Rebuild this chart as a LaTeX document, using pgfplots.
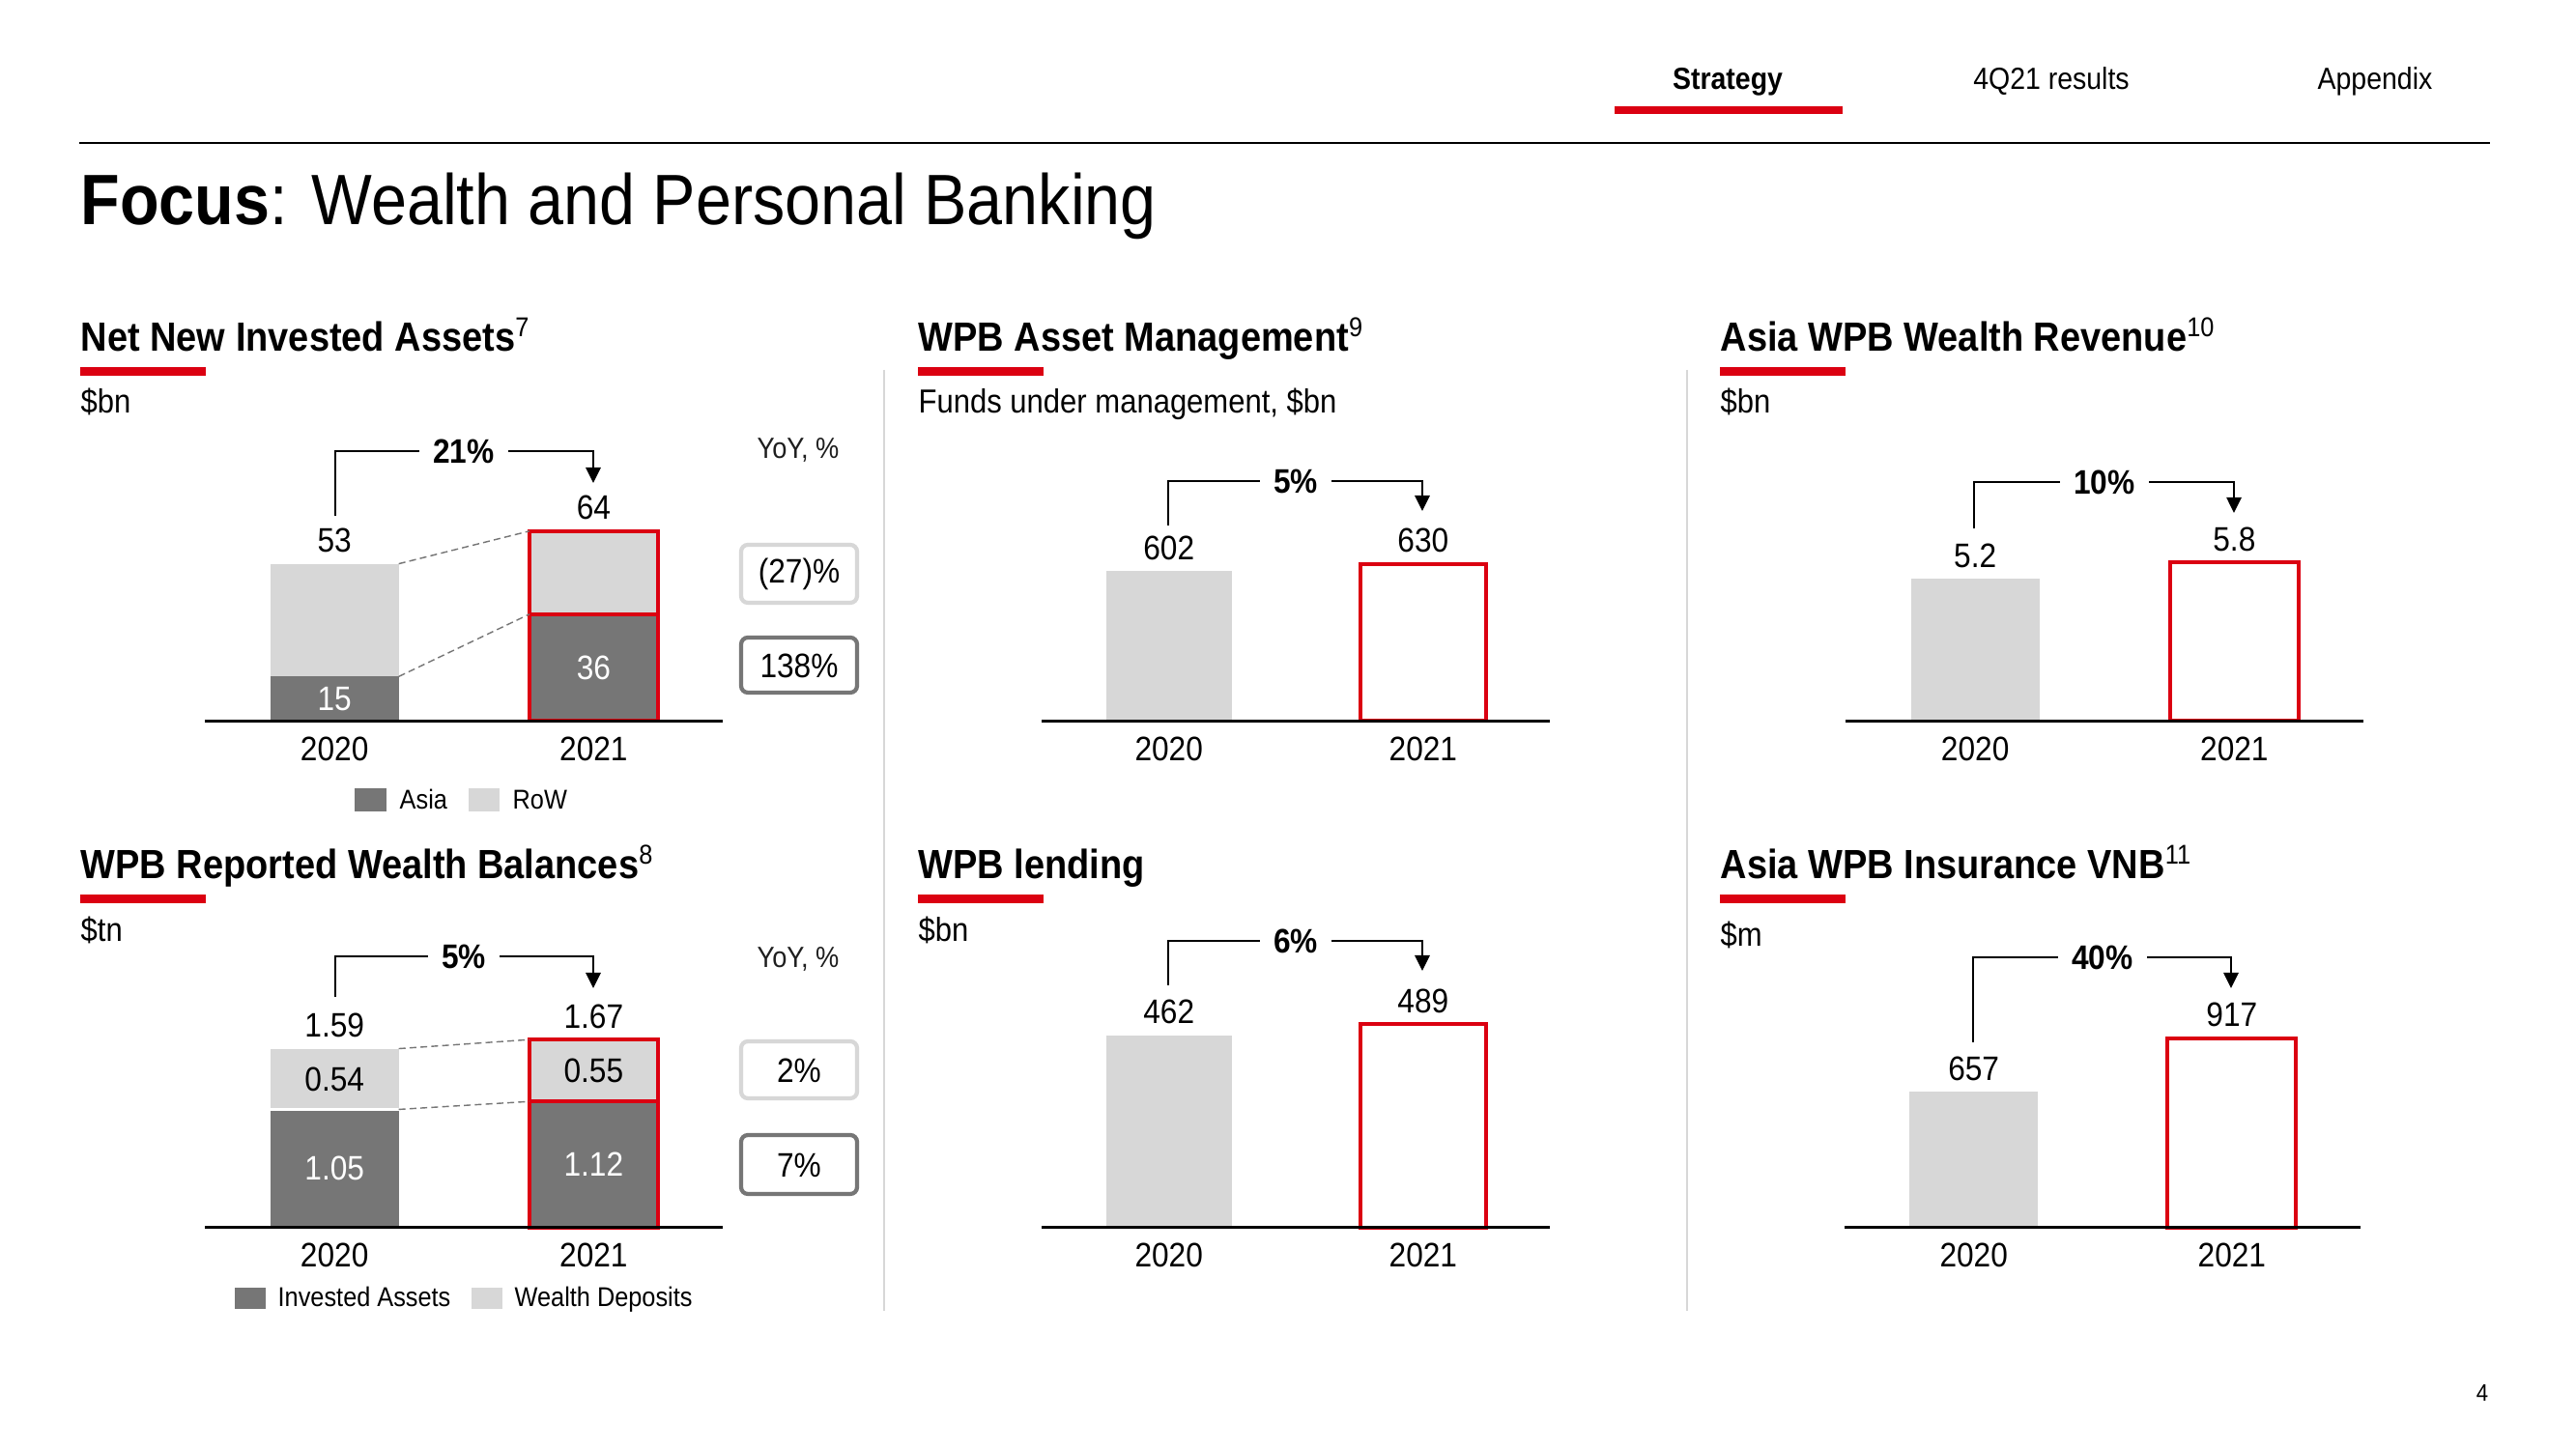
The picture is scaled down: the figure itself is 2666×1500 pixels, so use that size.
\documentclass[border=0pt]{standalone}
\usepackage{pgfplots}
\pgfplotsset{compat=1.18}
\usetikzlibrary{arrows.meta}
\usepackage{fontspec}
\setmainfont{Liberation Sans}[FakeStretch=0.9]
\definecolor{hred}{HTML}{DB0011}
\definecolor{dgray}{HTML}{767676}
\definecolor{lgray}{HTML}{D7D7D7}
\definecolor{txt}{HTML}{1E1E1E}
\newcommand\fs[1]{\fontsize{#1}{#1}\selectfont}

\pgfplotsset{
  panel/.style={anchor=south west, xmin=-0.5, xmax=1.5, ymin=0,
    hide axis, enlargelimits=false, clip=false,
    ybar, bar width=1.33cm, /pgf/bar shift=0pt,
    every axis plot post/.append style={/pgf/bar shift=0pt}},
}
\tikzset{
  old/.style={fill=lgray, draw=none},
  new/.style={fill=white, draw=hred, line width=1.1pt},
  newl/.style={fill=lgray, draw=hred, line width=1.1pt},
  oldd/.style={fill=dgray, draw=none},
  newd/.style={fill=dgray, draw=hred, line width=1.1pt},
  lab/.style={font=\fs{10}, anchor=base, yshift=0.12cm, inner sep=0pt},
  yr/.style={font=\fs{10}, anchor=base, yshift=-0.41cm, inner sep=0pt},
  inlab/.style={font=\fs{10}, anchor=center, inner sep=0pt},
  conn/.style={dgray, dash pattern=on 2pt off 1.2pt, line width=0.4pt},
  basel/.style={line width=0.8pt},
  ttl/.style={font=\fs{12}\bfseries, anchor=base west, inner sep=0pt},
  sub/.style={font=\fs{9.8}, anchor=base west, inner sep=0pt},
  leg/.style={font=\fs{8}, anchor=base west, inner sep=0pt},
  brk/.style={line width=0.8pt, -{Triangle[length=0.16cm,width=0.15cm]}},
  pct/.style={fill=white, font=\fs{10}\bfseries, inner xsep=0.14cm, inner ysep=1pt},
  boxl/.style={lgray, line width=1.2pt, rounded corners=2pt},
  boxd/.style={dgray, line width=1.2pt, rounded corners=2pt},
}

\begin{document}
\begin{tikzpicture}
% ---------- non-data layout in pixel coordinates ----------
\begin{scope}[x=0.01cm, y=-0.01cm, yshift=15cm]
\fill[white] (0,0) rectangle (2666,1500);
% header
\node[font=\fs{9}\bfseries, anchor=base] at (1788,93) {Strategy};
\node[font=\fs{9}, anchor=base] at (2123,93) {4Q21 results};
\node[font=\fs{9}, anchor=base] at (2458,93) {Appendix};
\fill[hred] (1671,110) rectangle (1907,118);
\draw[line width=0.8pt] (82,148) -- (2577,148);
\node[font=\fs{21}, anchor=base west, inner sep=0pt] at (83,233) {\textbf{Focus}: Wealth and Personal Banking};
% section titles
\node[ttl] at (83,364) {Net New Invested Assets\textsuperscript{\mdseries 7}};
\node[ttl] at (83,910) {WPB Reported Wealth Balances\textsuperscript{\mdseries 8}};
\node[ttl] at (950,364) {WPB Asset Management\textsuperscript{\mdseries 9}};
\node[ttl] at (950,910) {WPB lending};
\node[ttl] at (1780,364) {Asia WPB Wealth Revenue\textsuperscript{\mdseries 10}};
\node[ttl] at (1780,910) {Asia WPB Insurance VNB\textsuperscript{\mdseries 11}};
\foreach \xx in {83,950,1780}{
  \fill[hred] (\xx,380) rectangle (\xx+130,389);
  \fill[hred] (\xx,926) rectangle (\xx+130,935);
}
\node[sub] at (83,428) {\$bn};
\node[sub] at (83,975) {\$tn};
\node[sub] at (950,428) {Funds under management, \$bn};
\node[sub] at (950,975) {\$bn};
\node[sub] at (1780,428) {\$bn};
\node[sub] at (1780,980) {\$m};
% separators
\draw[lgray, line width=0.8pt] (915,383) -- (915,1357);
\draw[lgray, line width=0.8pt] (1746,383) -- (1746,1357);
% YoY boxes
\node[font=\fs{8.6}, text=txt] at (826,466) {YoY, \%};
\node[font=\fs{8.6}, text=txt] at (826,993) {YoY, \%};
\draw[boxl] (767,564) rectangle (887,624);
\node[font=\fs{10}] at (827,594) {(27)\%};
\draw[boxd] (767,660) rectangle (887,717);
\node[font=\fs{10}] at (827,689) {138\%};
\draw[boxl] (767,1078) rectangle (887,1137);
\node[font=\fs{10}] at (827,1108) {2\%};
\draw[boxd] (767,1175) rectangle (887,1236);
\node[font=\fs{10}] at (827,1206) {7\%};
% growth brackets
\draw[brk] (347,534) -- (347,467) -- (614,467) -- (614,500);
\node[pct] at (480,467) {21\%};
\draw[brk] (347,1032) -- (347,990) -- (614,990) -- (614,1023);
\node[pct] at (480,990) {5\%};
\draw[brk] (1209,544) -- (1209,498) -- (1472,498) -- (1472,529);
\node[pct] at (1341,498) {5\%};
\draw[brk] (1209,1020) -- (1209,974) -- (1472,974) -- (1472,1005);
\node[pct] at (1341,974) {6\%};
\draw[brk] (2043,547) -- (2043,499) -- (2312,499) -- (2312,531);
\node[pct] at (2178,499) {10\%};
\draw[brk] (2042,1079) -- (2042,991) -- (2309,991) -- (2309,1023);
\node[pct] at (2176,991) {40\%};
% legends
\fill[dgray] (367,816) rectangle (400,840); \node[leg] at (413,838) {Asia};
\fill[lgray] (485,816) rectangle (517,840); \node[leg] at (530,838) {RoW};
\fill[dgray] (243,1333) rectangle (275,1355); \node[leg] at (287,1353) {Invested Assets};
\fill[lgray] (488,1333) rectangle (520,1355); \node[leg] at (532,1353) {Wealth Deposits};
\node[font=\fs{7}] at (2569,1442) {4};
\end{scope}

% ---------- Panel 1: Net New Invested Assets ----------
\begin{axis}[panel, at={(2.12cm,7.54cm)}, x=2.68cm, y=0.0307cm, ymax=70]
\addplot[old] coordinates {(0,53)};
\addplot[oldd] coordinates {(0,15)};
\addplot[newl] coordinates {(1,64)};
\addplot[newd] coordinates {(1,36)};
\draw[conn] (axis cs:0.248,53) -- (axis cs:0.752,64);
\draw[conn] (axis cs:0.248,15) -- (axis cs:0.752,36);
\draw[basel] (axis cs:-0.5,0) -- (axis cs:1.5,0);
\node[lab] at (axis cs:0,53) {53};
\node[lab] at (axis cs:1,64) {64};
\node[inlab, text=white] at (axis cs:0,7.5) {15};
\node[inlab, text=white] at (axis cs:1,18) {36};
\node[yr] at (axis cs:0,0) {2020};
\node[yr] at (axis cs:1,0) {2021};
\end{axis}

% ---------- Panel 2: WPB Reported Wealth Balances ----------
\begin{axis}[panel, at={(2.12cm,2.30cm)}, x=2.68cm, y=1.164cm, ymax=1.8]
\addplot[old] coordinates {(0,1.59)};
\addplot[oldd] coordinates {(0,1.05)};
\addplot[newl] coordinates {(1,1.67)};
\addplot[newd] coordinates {(1,1.12)};
\draw[white, line width=0.8pt] (axis cs:-0.248,1.05) -- (axis cs:0.248,1.05);
\draw[conn] (axis cs:0.248,1.59) -- (axis cs:0.752,1.67);
\draw[conn] (axis cs:0.248,1.05) -- (axis cs:0.752,1.12);
\draw[basel] (axis cs:-0.5,0) -- (axis cs:1.5,0);
\node[lab] at (axis cs:0,1.59) {1.59};
\node[lab] at (axis cs:1,1.67) {1.67};
\node[inlab] at (axis cs:0,1.32) {0.54};
\node[inlab] at (axis cs:1,1.395) {0.55};
\node[inlab, text=white] at (axis cs:0,0.525) {1.05};
\node[inlab, text=white] at (axis cs:1,0.56) {1.12};
\node[yr] at (axis cs:0,0) {2020};
\node[yr] at (axis cs:1,0) {2021};
\end{axis}

% ---------- Panel 3: WPB Asset Management ----------
\begin{axis}[panel, at={(10.775cm,7.54cm)}, x=2.63cm, y=0.002575cm, ymax=700, bar width=1.3cm]
\addplot[old] coordinates {(0,602)};
\addplot[new] coordinates {(1,630)};
\draw[basel] (axis cs:-0.5,0) -- (axis cs:1.5,0);
\node[lab] at (axis cs:0,602) {602};
\node[lab] at (axis cs:1,630) {630};
\node[yr] at (axis cs:0,0) {2020};
\node[yr] at (axis cs:1,0) {2021};
\end{axis}

% ---------- Panel 4: WPB lending ----------
\begin{axis}[panel, at={(10.775cm,2.30cm)}, x=2.63cm, y=0.00431cm, ymax=550, bar width=1.3cm]
\addplot[old] coordinates {(0,462)};
\addplot[new] coordinates {(1,489)};
\draw[basel] (axis cs:-0.5,0) -- (axis cs:1.5,0);
\node[lab] at (axis cs:0,462) {462};
\node[lab] at (axis cs:1,489) {489};
\node[yr] at (axis cs:0,0) {2020};
\node[yr] at (axis cs:1,0) {2021};
\end{axis}

% ---------- Panel 5: Asia WPB Wealth Revenue ----------
\begin{axis}[panel, at={(19.09cm,7.54cm)}, x=2.68cm, y=0.283cm, ymax=6.5]
\addplot[old] coordinates {(0,5.2)};
\addplot[new] coordinates {(1,5.8)};
\draw[basel] (axis cs:-0.5,0) -- (axis cs:1.5,0);
\node[lab] at (axis cs:0,5.2) {5.2};
\node[lab] at (axis cs:1,5.8) {5.8};
\node[yr] at (axis cs:0,0) {2020};
\node[yr] at (axis cs:1,0) {2021};
\end{axis}

% ---------- Panel 6: Asia WPB Insurance VNB ----------
\begin{axis}[panel, at={(19.08cm,2.30cm)}, x=2.67cm, y=0.002135cm, ymax=1000]
\addplot[old] coordinates {(0,657)};
\addplot[new] coordinates {(1,917)};
\draw[basel] (axis cs:-0.5,0) -- (axis cs:1.5,0);
\node[lab] at (axis cs:0,657) {657};
\node[lab] at (axis cs:1,917) {917};
\node[yr] at (axis cs:0,0) {2020};
\node[yr] at (axis cs:1,0) {2021};
\end{axis}
\end{tikzpicture}
\end{document}
